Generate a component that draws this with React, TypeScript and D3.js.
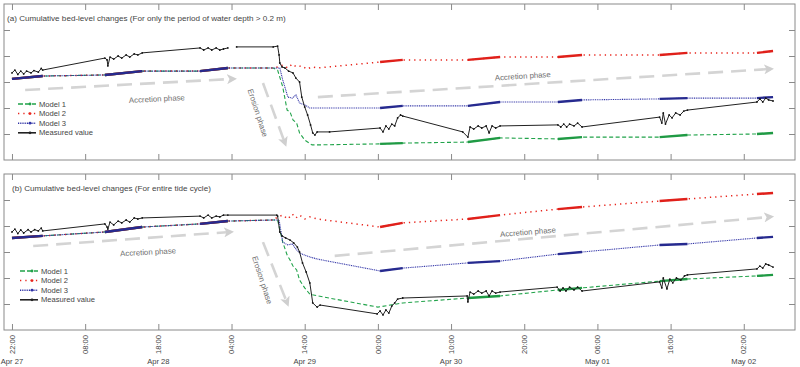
import React, { useRef, useEffect } from "react";
import * as d3 from "d3";

type Pt = [number, number];

// time in hours since Apr 27 22:00, value in chart units (no tick labels on y)
const TICK_HOURS = [0, 10, 20, 30, 40, 50, 60, 70, 80, 90, 100];
const TIME_LABELS = ["22:00", "08:00", "18:00", "04:00", "14:00", "00:00", "10:00", "20:00", "06:00", "16:00", "02:00"];
const DATE_LABELS = ["Apr 27", "", "Apr 28", "", "Apr 29", "", "Apr 30", "", "May 01", "", "May 02"];
const Y_TICKS = [1, 2, 3, 4, 5];

// periods with water depth > 0.2 m
const WET_PERIODS: Pt[] = [
  [0, 4.2], [12.7, 17.8], [25.7, 29.5], [50.3, 53.4], [62.3, 66.7],
  [74.6, 77.9], [88.5, 92.3], [101.8, 104],
];

const A_COMMON: Pt[] = [
  [0, 3.12], [4.2, 3.23], [12.7, 3.27], [17.8, 3.42], [25.7, 3.42], [29.5, 3.54], [35.7, 3.54],
];
const A_MODEL1: Pt[] = [
  ...A_COMMON, [36.3, 3.46], [37.0, 2.81], [37.6, 1.92], [38.0, 1.85], [38.4, 1.54], [38.9, 1.42],
  [39.3, 1.04], [40.0, 0.77], [41.0, 0.58], [41.7, 0.58], [50.3, 0.62], [53.4, 0.65], [62.3, 0.69],
  [66.7, 0.85], [74.6, 0.81], [77.9, 0.88], [88.5, 0.88], [92.3, 0.96], [101.8, 1.0], [104, 1.04],
];
const A_MODEL2: Pt[] = [
  ...A_COMMON, [36.3, 3.58], [37.0, 3.65], [37.7, 3.54], [38.3, 3.69], [38.9, 3.58], [39.6, 3.62],
  [40.3, 3.5], [41.0, 3.58], [41.7, 3.54], [50.3, 3.77], [53.4, 3.85], [62.3, 3.85], [66.7, 3.96],
  [74.6, 3.96], [77.9, 4.04], [88.5, 4.04], [92.3, 4.12], [101.8, 4.12], [104, 4.19],
];
const A_MODEL3: Pt[] = [
  ...A_COMMON, [36.6, 3.54], [37.0, 3.08], [37.7, 2.42], [38.3, 2.38], [38.8, 2.5], [39.3, 2.19],
  [40.0, 2.12], [40.7, 2.0], [41.7, 2.0], [50.3, 2.0], [53.4, 2.08], [62.3, 2.08], [66.7, 2.23],
  [74.6, 2.23], [77.9, 2.31], [88.5, 2.35], [92.3, 2.38], [101.8, 2.38], [104, 2.42],
];
const A_MEASURED: Pt[] = [
  [0, 3.35], [0.4, 3.46], [0.8, 3.29], [1.2, 3.42], [1.6, 3.31], [2.0, 3.42], [2.6, 3.35], [3.0, 3.44],
  [3.6, 3.38], [4.0, 3.52], [4.2, 3.46],
  [12.7, 3.92], [13.0, 3.85], [13.1, 3.62], [13.4, 3.96], [13.9, 3.88], [14.5, 4.0], [15.0, 3.92],
  [15.6, 4.04], [16.1, 3.96], [16.7, 4.08], [17.2, 4.04], [17.8, 4.12],
  [25.7, 4.31], [26.2, 4.23], [26.8, 4.31], [27.3, 4.23], [27.9, 4.31], [28.4, 4.23], [28.9, 4.27], [29.5, 4.31],
  [30.1, NaN],
  [30.7, 4.35], [35.7, 4.35], [36.3, 4.38], [36.5, 4.04], [36.6, 3.73], [36.9, 3.58], [37.3, 3.54],
  [37.8, 3.42], [38.4, 3.35], [38.8, 3.15], [39.3, 3.0], [39.6, 2.42], [40.0, 2.04], [40.4, 1.73],
  [40.8, 1.35], [41.1, 1.04], [41.4, 0.96], [41.7, 1.08],
  [43.4, 1.08], [50.3, 1.23], [50.7, 1.08], [51.1, 1.31], [51.5, 1.19], [51.9, 1.38], [52.3, 1.31],
  [52.7, 1.62], [53.1, 1.73], [53.4, 1.69],
  [61.6, 1.08], [62.3, 0.88], [62.6, 1.27], [63.1, 1.19], [63.7, 1.31], [64.2, 1.23], [64.8, 1.31],
  [65.2, 1.04], [65.6, 1.31], [66.1, 1.23], [66.7, 1.31],
  [74.6, 1.35], [75.0, 1.27], [75.4, 1.38], [75.8, 1.27], [76.2, 1.38], [76.8, 1.31], [77.3, 1.42], [77.9, 1.27],
  [88.5, 1.65], [88.8, 1.42], [89.0, 1.81], [89.3, 1.38], [89.8, 1.73], [90.2, 1.62], [90.7, 1.81],
  [91.3, 1.73], [91.8, 1.88], [92.3, 1.92],
  [101.8, 2.23], [102.2, 2.35], [102.6, 2.23], [103.0, 2.38], [103.4, 2.31], [104, 2.27],
];

const B_COMMON: Pt[] = [
  [0, 3.54], [4.2, 3.62], [12.7, 3.77], [17.8, 3.96], [25.7, 4.08], [29.5, 4.19], [35.7, 4.23],
];
const B_MODEL1: Pt[] = [
  ...B_COMMON, [36.3, 4.23], [37.0, 3.38], [37.6, 2.88], [38.0, 2.69], [38.4, 2.46], [38.9, 2.31],
  [39.3, 1.92], [40.0, 1.62], [40.7, 1.38], [41.8, 1.31], [50.0, 0.88], [53.4, 1.04], [62.3, 1.23],
  [66.7, 1.31], [74.6, 1.54], [77.9, 1.62], [88.5, 1.88], [92.3, 1.96], [101.8, 2.08], [104, 2.12],
];
const B_MODEL2: Pt[] = [
  ...B_COMMON, [36.3, 4.35], [37.0, 4.42], [37.7, 4.27], [38.3, 4.46], [38.8, 4.31], [39.3, 4.42],
  [40.0, 4.27], [40.7, 4.35], [41.7, 4.27], [50.3, 3.96], [53.4, 4.12], [62.3, 4.27], [66.7, 4.42],
  [74.6, 4.65], [77.9, 4.73], [88.5, 4.96], [92.3, 5.04], [101.8, 5.23], [104, 5.27],
];
const B_MODEL3: Pt[] = [
  ...B_COMMON, [36.5, 4.23], [37.0, 3.38], [37.7, 3.27], [38.3, 3.31], [38.8, 3.12], [39.3, 2.96],
  [40.0, 2.88], [40.7, 2.81], [41.7, 2.73], [50.3, 2.27], [53.4, 2.38], [62.3, 2.58], [66.7, 2.65],
  [74.6, 2.92], [77.9, 3.0], [88.5, 3.27], [92.3, 3.31], [101.8, 3.54], [104, 3.58],
];
const B_MEASURED: Pt[] = [
  [0, 3.77], [0.4, 3.88], [0.8, 3.71], [1.2, 3.85], [1.6, 3.73], [2.2, 3.86], [2.6, 3.77], [3.1, 3.86],
  [3.6, 3.81], [4.0, 3.92], [4.2, 3.81],
  [12.7, 4.08], [13.0, 3.96], [13.1, 3.88], [13.4, 4.15], [13.9, 4.04], [14.5, 4.19], [15.0, 4.12],
  [15.6, 4.23], [16.1, 4.15], [16.7, 4.31], [17.2, 4.27], [17.8, 4.31],
  [25.7, 4.38], [26.2, 4.31], [26.8, 4.42], [27.3, 4.31], [27.9, 4.38], [28.4, 4.35], [28.9, 4.42], [29.5, 4.42],
  [36.2, 4.42], [36.3, 4.38], [36.6, 3.77], [36.9, 3.62], [37.4, 3.54], [38.0, 3.46], [38.5, 3.35],
  [39.0, 3.19], [39.3, 3.0], [39.7, 2.58], [40.2, 2.23], [40.7, 1.81], [41.1, 1.04], [41.7, 0.88],
  [42.1, 0.96], [49.9, 0.62], [50.3, 0.73], [50.7, 0.58], [51.1, 0.77], [51.5, 0.65], [51.9, 0.92],
  [52.3, 1.04], [52.7, 1.19], [53.4, 1.23],
  [62.2, 1.31], [62.3, 1.08], [62.6, 1.46], [63.1, 1.38], [63.7, 1.5], [64.2, 1.42], [64.8, 1.5],
  [65.2, 1.31], [65.6, 1.5], [66.1, 1.42], [66.7, 1.46],
  [74.5, 1.65], [74.9, 1.5], [75.3, 1.62], [75.7, 1.5], [76.2, 1.65], [76.8, 1.54], [77.3, 1.65], [77.9, 1.5],
  [88.5, 1.85], [88.8, 1.62], [89.0, 2.0], [89.5, 1.58], [89.9, 1.96], [90.3, 1.81], [90.8, 2.0],
  [91.4, 1.92], [91.9, 2.08], [92.3, 2.12],
  [101.8, 2.35], [102.2, 2.46], [102.6, 2.38], [103.0, 2.54], [103.4, 2.5], [104, 2.42],
];

// annotation arrows [t0, v0, t1, v1] and labels, in data units
const A_ARROWS = [[1.8, 2.69, 30.2, 3.12], [34.3, 2.96, 37.3, 0.65], [41.8, 2.42, 103.6, 3.5]];
const B_ARROWS = [[2.9, 3.23, 29.8, 3.77], [34.3, 3.38, 37.6, 1.04], [44.1, 2.85, 103.6, 4.35]];
const A_NOTES = [
  { text: "Accretion phase", t: 19.8, v: 2.35, angle: -3 },
  { text: "Erosion phase", t: 33.6, v: 1.81, angle: 72 },
  { text: "Accretion phase", t: 69.8, v: 3.23, angle: -3.5 },
];
const B_NOTES = [
  { text: "Accretion phase", t: 18.6, v: 3.0, angle: -3 },
  { text: "Erosion phase", t: 34.2, v: 1.92, angle: 72 },
  { text: "Accretion phase", t: 70.5, v: 3.77, angle: -4.5 },
];

const SERIES_NAMES = ["Model 1", "Model 2", "Model 3", "Measured value"];
const COLORS = ["#21a34a", "#e8251d", "#2f32a6", "#222"];
const THICK = ["#1f9a44", "#e0201a", "#262a8f"];
const DASH = ["4,2.5", "1.3,4", "1,0.8", ""];

const FONT = "Liberation Sans, Arial, sans-serif";

export default function App() {
  const svgRef = useRef<SVGSVGElement>(null);

  useEffect(() => {
    if (!svgRef.current) return;
    const svg = d3.select(svgRef.current);
    svg.selectAll("*").remove();

    const left = 4, right = 795;
    const x = d3.scaleLinear().domain([-1.09, 107.0]).range([left, right]);

    svg.append("defs").append("marker")
      .attr("id", "ahead")
      .attr("viewBox", "0 0 10 10")
      .attr("refX", 6).attr("refY", 5)
      .attr("markerWidth", 10).attr("markerHeight", 10)
      .attr("markerUnits", "userSpaceOnUse")
      .attr("orient", "auto")
      .append("path")
      .attr("d", "M0,0 L10,5 L0,10 L2.5,5 Z")
      .attr("fill", "#cfcfcf");

    const panels = [
      {
        title: "(a) Cumulative bed-level changes (For only the period of water depth > 0.2 m)",
        top: 4, bottom: 160, titleX: 7,
        models: [A_MODEL1, A_MODEL2, A_MODEL3], measured: A_MEASURED,
        arrows: A_ARROWS, notes: A_NOTES, legendX: 18, legendY: 104,
      },
      {
        title: "(b) Cumulative bed-level changes (For entire tide cycle)",
        top: 174, bottom: 330, titleX: 12,
        models: [B_MODEL1, B_MODEL2, B_MODEL3], measured: B_MEASURED,
        arrows: B_ARROWS, notes: B_NOTES, legendX: 20, legendY: 271,
      },
    ];

    panels.forEach((p) => {
      const y = d3.scaleLinear().domain([0, 6]).range([p.bottom, p.top]);
      const g = svg.append("g");

      // frame ticks (inward on all four sides)
      const axes = [
        { ax: d3.axisBottom(x).tickValues(TICK_HOURS), tr: `translate(0,${p.bottom})` },
        { ax: d3.axisTop(x).tickValues(TICK_HOURS), tr: `translate(0,${p.top})` },
        { ax: d3.axisLeft(y).tickValues(Y_TICKS), tr: `translate(${left},0)` },
        { ax: d3.axisRight(y).tickValues(Y_TICKS), tr: `translate(${right},0)` },
      ];
      axes.forEach(({ ax, tr }) => {
        const a = g.append("g").attr("transform", tr)
          .call((ax as any).tickSize(-6).tickFormat(() => ""));
        a.select(".domain").remove();
        a.selectAll("line").attr("stroke", "#8a8a8a");
      });
      g.append("rect")
        .attr("x", left).attr("y", p.top)
        .attr("width", right - left).attr("height", p.bottom - p.top)
        .attr("fill", "none").attr("stroke", "#8a8a8a").attr("stroke-width", 1);

      g.append("text")
        .attr("x", p.titleX).attr("y", p.top + 17)
        .style("font-family", FONT)
        .style("font-size", "8.1px").style("fill", "#444")
        .text(p.title);

      // annotation arrows
      p.arrows.forEach((a) => {
        g.append("line")
          .attr("x1", x(a[0])).attr("y1", y(a[1]))
          .attr("x2", x(a[2])).attr("y2", y(a[3]))
          .attr("stroke", "#d4d4d4").attr("stroke-width", 2.6)
          .attr("stroke-dasharray", "15,8")
          .attr("marker-end", "url(#ahead)");
      });
      p.notes.forEach((n) => {
        g.append("text")
          .attr("transform", `translate(${x(n.t)},${y(n.v)}) rotate(${n.angle})`)
          .attr("text-anchor", "middle").attr("dy", "0.35em")
          .style("font-family", FONT)
          .style("font-size", "7.8px").style("fill", "#6e6e6e")
          .text(n.text);
      });

      const line = d3.line<Pt>()
        .defined((d) => !isNaN(d[1]))
        .x((d) => x(d[0]))
        .y((d) => y(d[1]));

      p.models.forEach((data, i) => {
        g.append("path")
          .datum(data)
          .attr("d", line)
          .attr("fill", "none")
          .attr("stroke", COLORS[i])
          .attr("stroke-width", i === 1 ? 1.5 : 1.1)
          .attr("stroke-dasharray", DASH[i]);
        WET_PERIODS.forEach(([s, e]) => {
          const seg = data.filter((d) => d[0] >= s - 0.01 && d[0] <= e + 0.01);
          if (seg.length < 2) return;
          g.append("path")
            .datum(seg)
            .attr("d", line)
            .attr("fill", "none")
            .attr("stroke", THICK[i])
            .attr("stroke-width", 2.4);
        });
      });

      g.append("path")
        .datum(p.measured)
        .attr("d", line)
        .attr("fill", "none")
        .attr("stroke", COLORS[3])
        .attr("stroke-width", 1);
      g.selectAll(".mdot")
        .data(p.measured.filter((d) => !isNaN(d[1])))
        .join("circle")
        .attr("cx", (d) => x(d[0])).attr("cy", (d) => y(d[1]))
        .attr("r", 0.9).attr("fill", "#111");

      // legend
      SERIES_NAMES.forEach((name, i) => {
        const ly = p.legendY + i * 9.6;
        const lg = g.append("g").attr("transform", `translate(${p.legendX},${ly})`);
        lg.append("line")
          .attr("x1", 0).attr("x2", 18).attr("y1", 0).attr("y2", 0)
          .attr("stroke", COLORS[i])
          .attr("stroke-width", i === 3 ? 1.6 : 1.5)
          .attr("stroke-dasharray", i === 0 ? "5,2" : DASH[i]);
        lg.append("circle").attr("cx", 12).attr("cy", 0).attr("r", 1.4).attr("fill", COLORS[i]);
        lg.append("text")
          .attr("x", 21).attr("y", 0).attr("dy", "0.35em")
          .style("font-family", FONT)
          .style("font-size", "7.6px").style("fill", "#444")
          .text(name);
      });
    });

    // x tick labels below panel (b)
    const lab = svg.append("g");
    TICK_HOURS.forEach((h, i) => {
      lab.append("text")
        .attr("transform", `translate(${x(h)},335) rotate(-90)`)
        .attr("text-anchor", "end").attr("dy", "0.35em")
        .style("font-family", FONT)
        .style("font-size", "7.6px").style("fill", "#444")
        .text(TIME_LABELS[i]);
      if (DATE_LABELS[i]) {
        lab.append("text")
          .attr("x", x(h)).attr("y", 364)
          .attr("text-anchor", "middle")
          .style("font-family", FONT)
          .style("font-size", "7.6px").style("fill", "#444")
          .text(DATE_LABELS[i]);
      }
    });
  }, []);

  return (
    <svg
      ref={svgRef}
      width={800}
      height={367}
      viewBox="0 0 800 367"
      style={{ position: "absolute", left: 0, top: 0, background: "#fff" }}
    />
  );
}
